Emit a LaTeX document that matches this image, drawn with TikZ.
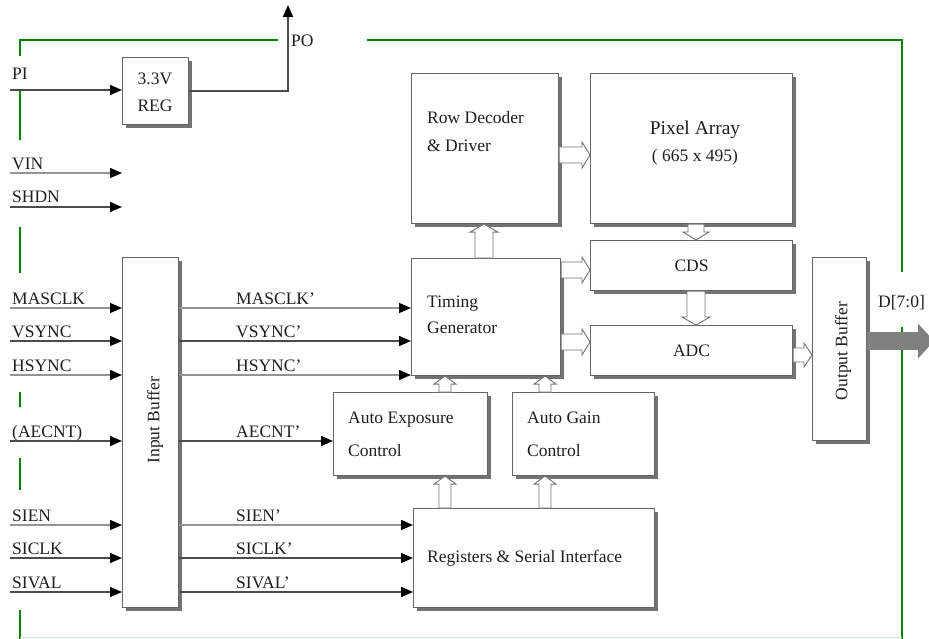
\documentclass[tikz,border=0pt]{standalone}
\usepackage{fontspec}
\setmainfont{Liberation Serif}
\usetikzlibrary{arrows.meta,calc,shadows}
\definecolor{bordergreen}{RGB}{0,128,0}
\definecolor{palegreen}{RGB}{205,235,205}
\newcommand{\hollowH}[3]{\draw[hol] let \p1=(#1), \p2=(#2) in (\x1,\y1+#3) -- (\x2-8pt,\y1+#3) -- (\x2-8pt,\y1+#3+5pt) -- (\x2,\y1) -- (\x2-8pt,\y1-#3-5pt) -- (\x2-8pt,\y1-#3) -- (\x1,\y1-#3) -- cycle;}
\newcommand{\hollowU}[3]{\draw[hol] let \p1=(#1), \p2=(#2) in (\x1-#3,\y1) -- (\x1-#3,\y2-8pt) -- (\x1-#3-5pt,\y2-8pt) -- (\x1,\y2) -- (\x1+#3+5pt,\y2-8pt) -- (\x1+#3,\y2-8pt) -- (\x1+#3,\y1) -- cycle;}
\newcommand{\hollowD}[3]{\draw[hol] let \p1=(#1), \p2=(#2) in (\x1-#3,\y1) -- (\x1-#3,\y2+8pt) -- (\x1-#3-5pt,\y2+8pt) -- (\x1,\y2) -- (\x1+#3+5pt,\y2+8pt) -- (\x1+#3,\y2+8pt) -- (\x1+#3,\y1) -- cycle;}
\begin{document}
\begin{tikzpicture}[x=1pt,y=-1pt,
  blk/.style={draw=black!60, line width=1.1pt, fill=white, rectangle, inner sep=0pt, anchor=north west,
    general shadow={fill=black!55, shadow xshift=3pt, shadow yshift=-3pt}},
  txt/.style={text=black!88, font=\fontsize{17.5}{20}\selectfont, inner sep=0pt},
  bigtxt/.style={text=black!88, font=\fontsize{19.5}{22}\selectfont, inner sep=0pt},
  sig/.style={draw=black!70, line width=1.5pt, -{Triangle[length=12pt,width=10pt,color=black]}},
  lsig/.style={draw=black!42, line width=1.5pt, -{Triangle[length=12pt,width=10pt,color=black]}},
  hol/.style={draw=black!55, fill=white, line width=0.9pt},
  grn/.style={draw=bordergreen, line width=2.6pt}
]
\useasboundingbox (0,0) rectangle (929,639);
\fill[white] (0,0) rectangle (929,639);

% green border
\draw[grn] (20,56) -- (20,40) -- (278,40);
\draw[grn] (367,40) -- (902,40) -- (902,272);
\draw[grn] (902,327) -- (902,639);
\draw[grn] (20,90) -- (20,140);
\draw[grn] (20,227) -- (20,273);
\draw[grn] (20,392) -- (20,407);
\draw[grn] (20,458) -- (20,490);
\draw[grn] (20,610) -- (20,639);
\draw[draw=palegreen, line width=1pt] (20,637) -- (902,637);

% blocks
\node[blk, minimum width=66pt, minimum height=67pt] (reg) at (122,57) {};
\node[blk, minimum width=147pt, minimum height=150pt] (rd) at (411,73) {};
\node[blk, minimum width=202pt, minimum height=150pt] (pa) at (590,73) {};
\node[blk, minimum width=149pt, minimum height=117pt] (tg) at (411,258) {};
\node[blk, minimum width=202pt, minimum height=50pt] (cds) at (590,240) {};
\node[blk, minimum width=202pt, minimum height=50pt] (adc) at (590,325) {};
\node[blk, minimum width=54pt, minimum height=183pt] (ob) at (812,257) {};
\node[blk, minimum width=56pt, minimum height=350pt] (ib) at (122,257) {};
\node[blk, minimum width=154pt, minimum height=83pt] (aec) at (333,392) {};
\node[blk, minimum width=142pt, minimum height=83pt] (agc) at (512,392) {};
\node[blk, minimum width=241pt, minimum height=99pt] (rsi) at (413,508) {};

% block texts
\node[txt, anchor=base] (regt1) at (155,85) {3.3V};
\node[txt, anchor=base] (regt2) at (155,112) {REG};
\node[txt, anchor=base west] (rdt1) at (427,124) {Row Decoder};
\node[txt, anchor=base west] (rdt2) at (427,152) {\& Driver};
\node[bigtxt, anchor=base] (pat1) at (695,135) {Pixel Array};
\node[txt, anchor=base] (pat2) at (695,162) {( 665 x 495)};
\node[txt] (cdst) at (cds.center) {CDS};
\node[txt] (adct) at (adc.center) {ADC};
\node[txt, anchor=base west] (tgt1) at (427,307) {Timing};
\node[txt, anchor=base west] (tgt2) at (427,333) {Generator};
\node[txt, anchor=base west] (aect1) at (348,423) {Auto Exposure};
\node[txt, anchor=base west] (aect2) at (348,456) {Control};
\node[txt, anchor=base west] (agct1) at (527,423) {Auto Gain};
\node[txt, anchor=base west] (agct2) at (527,456) {Control};
\node[txt, anchor=base west] (rsit) at (427,562) {Registers \& Serial Interface};
\node[txt, rotate=90] (ibt) at (155,420) {Input Buffer};
\node[txt, rotate=90] (obt) at (843,351) {Output Buffer};

% signal row coordinates
\coordinate (pi) at (10,90);
\coordinate (vin) at (10,173);
\coordinate (vinE) at (122,173);
\coordinate (shdn) at (10,207);
\coordinate (shdnE) at (122,207);
\coordinate (masclk) at (10,308);
\coordinate (vsync) at (10,341);
\coordinate (hsync) at (10,375);
\coordinate (aecnt) at (10,441);
\coordinate (sien) at (10,525);
\coordinate (siclk) at (10,558);
\coordinate (sival) at (10,592);
\coordinate (po) at (288,5);

% input signals
\draw[sig] (pi) -- (pi -| reg.west);
\draw[lsig] (vin) -- (vinE);
\draw[sig] (shdn) -- (shdnE);
\draw[lsig] (masclk) -- (masclk -| ib.west);
\draw[sig] (vsync) -- (vsync -| ib.west);
\draw[lsig] (hsync) -- (hsync -| ib.west);
\draw[sig] (aecnt) -- (aecnt -| ib.west);
\draw[lsig] (sien) -- (sien -| ib.west);
\draw[sig] (siclk) -- (siclk -| ib.west);
\draw[sig] (sival) -- (sival -| ib.west);
\draw[sig] (reg.east) -| (po);

% buffered signals
\draw[lsig] (masclk -| ib.east) -- (masclk -| tg.west);
\draw[sig] (vsync -| ib.east) -- (vsync -| tg.west);
\draw[lsig] (hsync -| ib.east) -- (hsync -| tg.west);
\draw[sig] (aecnt -| ib.east) -- (aecnt -| aec.west);
\draw[lsig] (sien -| ib.east) -- (sien -| rsi.west);
\draw[sig] (siclk -| ib.east) -- (siclk -| rsi.west);
\draw[sig] (sival -| ib.east) -- (sival -| rsi.west);

% labels
\node[txt, anchor=base west] (lpi) at (12,80) {PI};
\node[txt, anchor=base west] (lpo) at (291,47) {PO};
\node[txt, anchor=base west] (lvin) at (12,170) {VIN};
\node[txt, anchor=base west] (lshdn) at (12,203) {SHDN};
\node[txt, anchor=base west] (lmasclk) at (12,304) {MASCLK};
\node[txt, anchor=base west] (lvsync) at (12,337) {VSYNC};
\node[txt, anchor=base west] (lhsync) at (12,371) {HSYNC};
\node[txt, anchor=base west] (laecnt) at (12,437) {(AECNT)};
\node[txt, anchor=base west] (lsien) at (12,521) {SIEN};
\node[txt, anchor=base west] (lsiclk) at (12,554) {SICLK};
\node[txt, anchor=base west] (lsival) at (12,588) {SIVAL};
\node[txt, anchor=base west] (rmasclk) at (236,304) {MASCLK'};
\node[txt, anchor=base west] (rvsync) at (236,337) {VSYNC'};
\node[txt, anchor=base west] (rhsync) at (236,371) {HSYNC'};
\node[txt, anchor=base west] (raecnt) at (236,437) {AECNT'};
\node[txt, anchor=base west] (rsien) at (236,521) {SIEN'};
\node[txt, anchor=base west] (rsiclk) at (236,554) {SICLK'};
\node[txt, anchor=base west] (rsival) at (236,588) {SIVAL'};
\node[txt, anchor=base west] (ldout) at (878,307) {D[7:0]};

% hollow arrows
\coordinate (h1) at (0,155);
\coordinate (h2) at (0,270);
\coordinate (h3) at (0,342);
\coordinate (h4) at (0,355);
\coordinate (v1) at (484,0);
\coordinate (v2) at (696,0);
\coordinate (v3) at (445,0);
\coordinate (v4) at (545,0);
\hollowH{rd.east |- h1}{pa.west |- h1}{8pt}
\hollowH{tg.east |- h2}{cds.west |- h2}{8pt}
\hollowH{tg.east |- h3}{adc.west |- h3}{8pt}
\hollowH{adc.east |- h4}{ob.west |- h4}{7pt}
\hollowU{v1 |- tg.north}{v1 |- rd.south}{9pt}
\hollowD{v2 |- pa.south}{v2 |- cds.north}{8pt}
\hollowD{v2 |- cds.south}{v2 |- adc.north}{9pt}
\hollowU{v3 |- aec.north}{v3 |- tg.south}{6pt}
\hollowU{v4 |- agc.north}{v4 |- tg.south}{6pt}
\hollowU{v3 |- rsi.north}{v3 |- aec.south}{6pt}
\hollowU{v4 |- rsi.north}{v4 |- agc.south}{6pt}

% data output
\coordinate (dout) at (0,341);
\coordinate (dend) at (934,341);
\draw[draw=black!50, line width=18pt, -{Triangle[length=16pt,width=34pt]}] (ob.east |- dout) -- (dend |- dout);
\end{tikzpicture}
\end{document}
